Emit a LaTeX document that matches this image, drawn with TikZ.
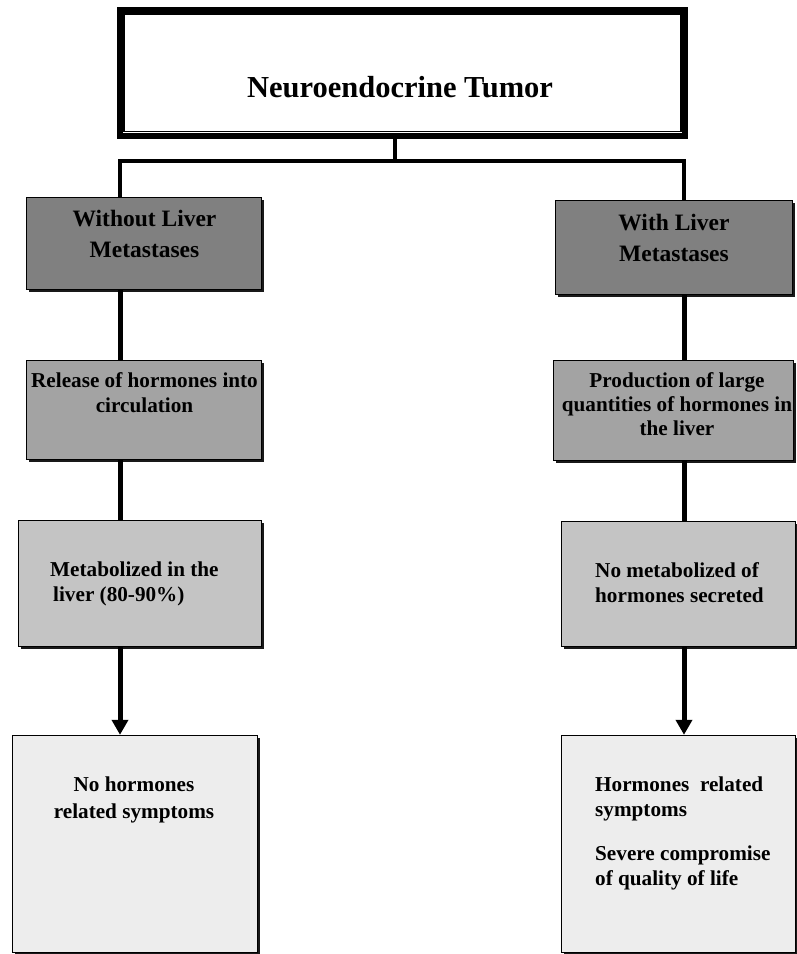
\documentclass[tikz,border=0pt]{standalone}
\usepackage{fontspec}
\setmainfont{Liberation Serif}
\usetikzlibrary{arrows.meta,shadows}

\definecolor{shadeA}{gray}{0.50}
\definecolor{shadeB}{gray}{0.64}
\definecolor{shadeC}{gray}{0.77}
\definecolor{shadeD}{gray}{0.93}

\tikzset{
  topbox/.style={draw, line width=5.5pt, minimum width=565pt, minimum height=126pt, inner sep=0pt},
  flowbox/.style={draw, line width=1.4pt, inner sep=0pt,
    drop shadow={shadow xshift=2.5pt, shadow yshift=-2.5pt, fill=black, opacity=0.9}},
  bigtext/.style={inner sep=0pt, font=\bfseries\fontsize{30.5}{36}\selectfont},
  headtext/.style={inner sep=0pt, align=center, font=\bfseries\fontsize{23.5}{31}\selectfont},
  steptext/.style={inner sep=0pt, font=\bfseries\fontsize{21.2}{25}\selectfont},
  branch/.style={line width=4pt},
  link/.style={line width=5pt},
}

\begin{document}
\begin{tikzpicture}[x=1pt,y=-1pt]
  \useasboundingbox (0,0) rectangle (797,954);

  % top box
  \node[topbox] (tumor) at (402.5,73) {};
  \draw[line width=1.3pt] ([shift={(6.8pt,-6.8pt)}]tumor.north west) rectangle ([shift={(-6.8pt,7pt)}]tumor.south east);
  \node[bigtext, anchor=north] (tumorText) at (400,76) {Neuroendocrine Tumor};

  % boxes
  \node[flowbox, fill=shadeA, minimum width=235pt, minimum height=92pt] (wo) at (144,243.5) {};
  \node[flowbox, fill=shadeA, minimum width=237pt, minimum height=94pt] (wi) at (674,247.5) {};
  \node[flowbox, fill=shadeB, minimum width=235pt, minimum height=99pt] (rel) at (144,410) {};
  \node[flowbox, fill=shadeB, minimum width=240pt, minimum height=100pt] (prod) at (673.5,410.5) {};
  \node[flowbox, fill=shadeC, minimum width=243pt, minimum height=126pt] (met) at (140,583.5) {};
  \node[flowbox, fill=shadeC, minimum width=234pt, minimum height=125pt] (nomet) at (678.5,584) {};
  \node[flowbox, fill=shadeD, minimum width=245pt, minimum height=217pt] (nohorm) at (135,844) {};
  \node[flowbox, fill=shadeD, minimum width=234pt, minimum height=217pt] (horm) at (678.5,844) {};

  % texts
  \node[headtext, anchor=north] (woText) at (144.5,210) {Without Liver\\Metastases};
  \node[headtext, anchor=north] (wiText) at (674,214) {With Liver\\Metastases};
  \node[steptext, anchor=north, align=center] (relText) at (144.5,372) {Release of hormones into\\circulation};
  \node[steptext, anchor=north, align=center, font=\bfseries\fontsize{21.2}{24}\selectfont] (prodText) at (677,372)
    {Production of large\\quantities of hormones in\\the liver};
  \node[steptext, anchor=north west, align=left] (metText) at (50,562) {Metabolized in the\\\hspace*{3pt}liver (80-90\%)};
  \node[steptext, anchor=north west, align=left] (nometText) at (595,562) {No metabolized of\\hormones secreted};
  \node[steptext, anchor=north, align=center, font=\bfseries\fontsize{21.2}{27}\selectfont] (nohormText) at (134,777)
    {No hormones\\related symptoms};
  \node[steptext, anchor=north west, align=left] (hormText) at (595,777)
    {Hormones\ \ related\\symptoms\\[19pt]Severe compromise\\of quality of life};

  % connectors
  \coordinate (split) at (395,161);
  \coordinate (lsplit) at (120,161);
  \coordinate (rsplit) at (684,161);
  \draw[branch] (tumor.south -| split) -- (split);
  \draw[branch] (wo.north -| lsplit) -- (lsplit) -- (rsplit) -- (wi.north -| rsplit);
  \draw[link] (wo.south -| lsplit) -- (rel.north -| lsplit);
  \draw[link] (rel.south -| lsplit) -- (met.north -| lsplit);
  \draw[link, -{Triangle[width=16pt,length=15pt]}] (met.south -| lsplit) -- (nohorm.north -| lsplit);
  \draw[link] (wi.south -| rsplit) -- (prod.north -| rsplit);
  \draw[link] (prod.south -| rsplit) -- (nomet.north -| rsplit);
  \draw[link, -{Triangle[width=16pt,length=15pt]}] (nomet.south -| rsplit) -- (horm.north -| rsplit);
\end{tikzpicture}
\end{document}
